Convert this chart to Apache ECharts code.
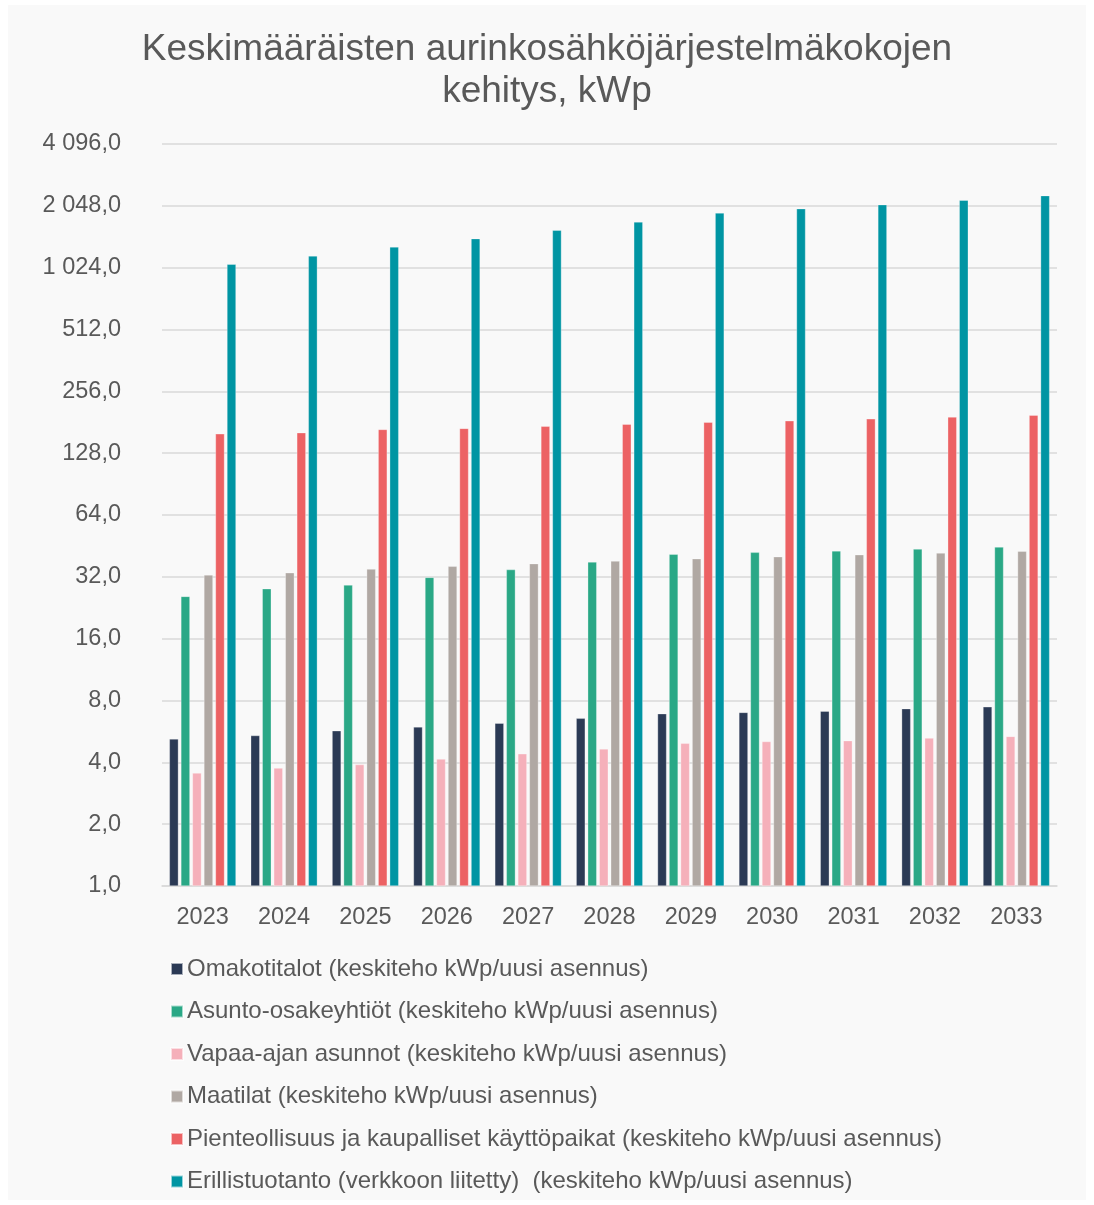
<!DOCTYPE html>
<html>
<head>
<meta charset="utf-8">
<title>Keskimääräisten aurinkosähköjärjestelmäkokojen kehitys</title>
<script src="https://cdn.jsdelivr.net/npm/echarts@6/dist/echarts.min.js"></script>
<style>
	html,body{margin:0;padding:0;background:#fff;}
	#main{position:absolute;left:8px;top:5px;width:1078px;height:1195px;background:#f9f9f9;}
</style>
</head>
<body>
<div id="main"></div>
<script>
var years = ['2023','2024','2025','2026','2027','2028','2029','2030','2031','2032','2033'];
var seriesNames = [
	'Omakotitalot (keskiteho kWp/uusi asennus)',
	'Asunto-osakeyhtiöt (keskiteho kWp/uusi asennus)',
	'Vapaa-ajan asunnot (keskiteho kWp/uusi asennus)',
	'Maatilat (keskiteho kWp/uusi asennus)',
	'Pienteollisuus ja kaupalliset käyttöpaikat (keskiteho kWp/uusi asennus)',
	'Erillistuotanto (verkkoon liitetty)  (keskiteho kWp/uusi asennus)'
];
var omakotitalot = [5.2, 5.4, 5.7, 5.95, 6.2, 6.55, 6.9, 7.0, 7.1, 7.3, 7.45];
var asuntoOy = [25.7, 28.0, 29.2, 31.8, 34.7, 37.8, 41.2, 42.1, 42.8, 43.7, 44.7];
var vapaaAjan = [3.55, 3.75, 3.9, 4.15, 4.4, 4.65, 4.95, 5.05, 5.1, 5.25, 5.35];
var maatilat = [32.7, 33.5, 34.9, 36.0, 37.1, 38.2, 39.2, 40.1, 41.0, 41.8, 42.6];
var pienteollisuus = [159, 161, 167, 169, 173, 177, 181, 184, 188, 192, 196];
var erillistuotanto = [1064, 1168, 1292, 1418, 1557, 1710, 1891, 1984, 2075, 2180, 2296];
var yTicks = [1, 2, 4, 8, 16, 32, 64, 128, 256, 512, 1024, 2048, 4096];

var colors = ['#2b3a55', '#2aa886', '#f5b0ba', '#b0a8a3', '#ec6264', '#0095a3'];
var allData = [omakotitalot, asuntoOy, vapaaAjan, maatilat, pienteollisuus, erillistuotanto];

// 4096 -> "4 096,0"
function fmt(v){
	var s = v.toFixed(1).split('.');
	var whole = s[0].replace(/\B(?=(\d{3})+(?!\d))/g, ' ');
	return whole + ',' + s[1];
}

var chart = echarts.init(document.getElementById('main'));
var textColor = '#595959';
var font = '"Liberation Sans", Arial, sans-serif';

var series = [];
for (var i = 0; i < allData.length; i++) {
	series.push({
		name: seriesNames[i],
		type: 'bar',
		data: allData[i],
		barWidth: 9,
		barGap: '28%',
		itemStyle: {color: colors[i], borderColor: 'rgba(255,255,255,0.6)', borderWidth: 0.5}
	});
}

chart.setOption({
	animation: false,
	textStyle: {fontFamily: font},
	title: {
		text: 'Keskimääräisten aurinkosähköjärjestelmäkokojen\nkehitys, kWp',
		left: 'center',
		top: 19,
		textStyle: {color: textColor, fontSize: 37, fontWeight: 'normal', lineHeight: 42, fontFamily: font}
	},
	legend: {
		orient: 'vertical',
		left: 162,
		top: 952,
		height: 243,
		padding: 0,
		itemWidth: 12,
		itemHeight: 12,
		itemGap: 18.5,
		icon: 'rect',
		data: seriesNames,
		textStyle: {color: textColor, fontSize: 24, fontFamily: font, padding: [0, 0, 0, -1]}
	},
	grid: {left: 154, right: 29, top: 139, bottom: 314, containLabel: false},
	xAxis: {
		type: 'category',
		data: years,
		axisLine: {lineStyle: {color: '#d9d9d9', width: 1.5}},
		axisTick: {show: false},
		axisLabel: {color: textColor, fontSize: 23.5, margin: 20, fontFamily: font}
	},
	yAxis: {
		type: 'log',
		logBase: 2,
		min: yTicks[0],
		max: yTicks[yTicks.length - 1],
		interval: 1,
		axisLine: {show: false},
		axisTick: {show: false},
		splitLine: {lineStyle: {color: '#d9d9d9', width: 1.5}},
		axisLabel: {color: textColor, fontSize: 23.5, margin: 41, fontFamily: font, formatter: fmt}
	},
	series: series
});
</script>
</body>
</html>
